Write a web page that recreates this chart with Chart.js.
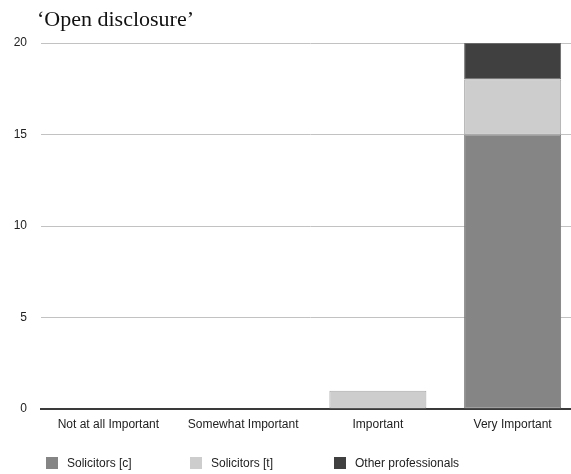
<!DOCTYPE html>
<html>
<head>
<meta charset="utf-8">
<title>Open disclosure</title>
<script src="https://cdn.jsdelivr.net/npm/chart.js@4/dist/chart.umd.min.js"></script>
<style>
  html, body { margin: 0; padding: 0; background: #fff; overflow: hidden; }
  #wrap { width: 582px; height: 474px; }
</style>
</head>
<body>
<div id="wrap"><canvas id="chart" width="582" height="474"></canvas></div>
<script>
// Response categories and counts per respondent group
const chartTitle = '\u2018Open disclosure\u2019';
const categories = ['Not at all Important', 'Somewhat Important', 'Important', 'Very Important'];
const solicitorsC = [0, 0, 0, 15];
const solicitorsT = [0, 0, 1, 3];
const otherProfessionals = [0, 0, 0, 2];
const yTicks = [0, 5, 10, 15, 20];

const SANS = '"Liberation Sans", Arial, Helvetica, sans-serif';

// Title and a fixed-spacing legend drawn onto the canvas
const decorations = {
  id: 'decorations',
  afterDraw(chart) {
    const ctx = chart.ctx;
    ctx.save();
    ctx.fillStyle = '#111';
    ctx.font = '22px "Liberation Serif", "Times New Roman", serif';
    ctx.textAlign = 'left';
    ctx.textBaseline = 'alphabetic';
    ctx.fillText(chartTitle, 37, 26);

    ctx.font = '12px ' + SANS;
    ctx.textBaseline = 'middle';
    chart.data.datasets.forEach((ds, i) => {
      const x = 46 + i * 144;
      const y = 462;
      ctx.fillStyle = ds.backgroundColor;
      ctx.fillRect(x, y - 5, 12, 12);
      ctx.fillStyle = '#222';
      ctx.fillText(ds.label, x + 21, y + 1.5);
    });
    ctx.restore();
  }
};

// Only non-empty segments get an outline
const borderFor = () => ctx => (ctx.raw ? 1 : 0);

new Chart(document.getElementById('chart'), {
  type: 'bar',
  data: {
    labels: categories,
    datasets: [
      { label: 'Solicitors [c]', data: solicitorsC, backgroundColor: '#858585', borderColor: '#7a7a7a', borderWidth: borderFor() },
      { label: 'Solicitors [t]', data: solicitorsT, backgroundColor: '#cdcdcd', borderColor: '#a8a8a8', borderWidth: borderFor() },
      { label: 'Other professionals', data: otherProfessionals, backgroundColor: '#404040', borderColor: '#6a6a6a', borderWidth: borderFor() }
    ]
  },
  options: {
    responsive: false,
    animation: false,
    devicePixelRatio: 1,
    layout: { padding: { top: 43, right: 2, bottom: 0, left: 0 } },
    datasets: { bar: { categoryPercentage: 0.72, barPercentage: 1.0, borderSkipped: false } },
    plugins: {
      legend: { display: false },
      title: { display: false },
      tooltip: { enabled: false }
    },
    scales: {
      x: {
        stacked: true,
        grid: { display: false, drawTicks: false },
        border: { display: true, color: '#3a3a3a', width: 2 },
        ticks: { color: '#222', font: { family: SANS, size: 12 }, padding: 8, maxRotation: 0 },
        afterFit(scale) { scale.height = 65; }
      },
      y: {
        stacked: true,
        min: 0,
        max: 20,
        afterBuildTicks(scale) { scale.ticks = yTicks.map(v => ({ value: v })); },
        grid: { color: '#c2c2c2', lineWidth: 1, drawTicks: false },
        border: { display: false },
        ticks: { color: '#222', font: { family: SANS, size: 12 }, padding: 14 },
        afterFit(scale) { scale.width = 41; }
      }
    }
  },
  plugins: [decorations]
});
</script>
</body>
</html>
